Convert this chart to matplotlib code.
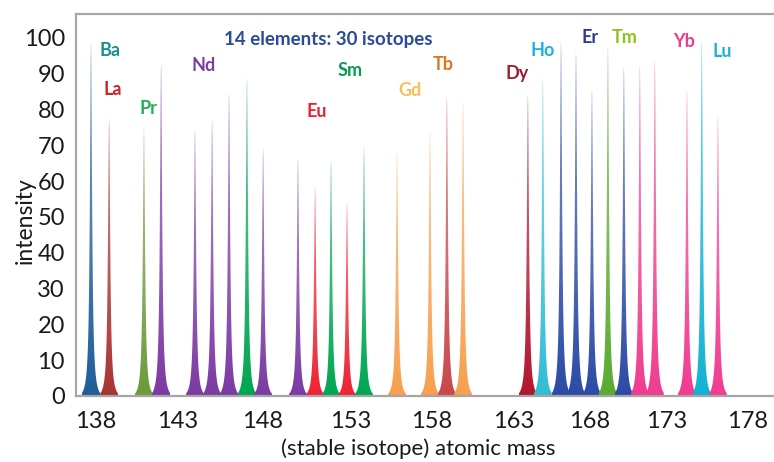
import numpy as np
import matplotlib
matplotlib.use('Agg')
import matplotlib.pyplot as plt
from matplotlib.colors import to_rgb

plt.rcParams['font.family'] = ['Lato', 'DejaVu Sans']

# isotope peaks, left to right (position on the drawn axis, intensity)
peak_elem = ['Ba', 'La', 'Pr', 'Nd', 'Nd', 'Nd', 'Nd', 'Sm', 'Nd', 'Nd',
             'Eu', 'Sm', 'Eu', 'Sm', 'Gd', 'Gd', 'Tb', 'Gd', 'Dy', 'Ho',
             'Er', 'Er', 'Er', 'Tm', 'Er', 'Yb', 'Yb', 'Yb', 'Lu', 'Yb']
peak_pos = [137.69, 138.80, 140.94, 141.99, 144.07, 145.12, 146.16, 147.26, 148.25, 150.39,
            151.44, 152.42, 153.40, 154.44, 156.47, 158.49, 159.53, 160.52, 164.50, 165.42,
            166.53, 167.45, 168.43, 169.41, 170.39, 171.37, 172.29, 174.26, 175.17, 176.16]
peak_height = [100, 78.5, 76, 94, 75.5, 78, 85.5, 90, 70, 67,
               59, 66.5, 54.5, 70.5, 69, 75, 85, 83, 85, 90,
               100, 97, 86.5, 99, 93, 93.5, 95, 86.5, 100.5, 79]

# element labels
elements = ['Ba', 'La', 'Pr', 'Nd', 'Eu', 'Sm', 'Gd', 'Tb', 'Dy', 'Ho', 'Er', 'Tm', 'Yb', 'Lu']
label_x = [138.83, 139.04, 141.19, 144.63, 151.56, 153.61, 157.26, 159.29, 163.83, 165.42, 168.34, 170.45, 174.1, 176.44]
label_y = [96.4, 85.6, 80.2, 92.3, 79.6, 90.8, 85.2, 92.5, 90.2, 96.4, 100.1, 100.1, 98.9, 96.1]
peak_colors = ['#1f5d98', '#a83232', '#6b9a3c', '#7b3aa3', '#ee2233', '#00a651', '#f7a04e',
               '#c9474a', '#b0152f', '#33bcd4', '#2c4aa6', '#5aaa30', '#f03c8f', '#12b2d2']
label_colors = ['#15908f', '#cc2228', '#1fae55', '#7b3fa0', '#e8202f', '#0a9a50', '#f7c05a',
                '#e0731e', '#a01a30', '#1eb0e0', '#2a3a90', '#8cc21e', '#f03c8f', '#1eb0d8']

tick_pos = [138, 143, 148.2, 153.6, 158.6, 163.6, 168.3, 173, 178]
tick_labels = ['138', '143', '148', '153', '158', '163', '168', '173', '178']

fig = plt.figure(figsize=(7.74, 4.62), dpi=100)
ax = fig.add_axes([76 / 774, 1 - 396 / 462, 1 - 76 / 774, (396 - 14) / 462])

pcol = dict(zip(elements, peak_colors))

# Draw peaks as sharp lorentzian spikes, fading toward the top
g = 0.08
for el, x0, h in zip(peak_elem, peak_pos, peak_height):
    xs = np.linspace(x0 - 0.55, x0 + 0.55, 400)
    ys = h / (1 + ((xs - x0) / g) ** 2)
    ys = np.clip(ys - h * 0.012, 0, None)
    poly = ax.fill_between(xs, 0, ys, color='none', lw=0)
    rgb = to_rgb(pcol[el])
    grad = np.zeros((100, 2, 4))
    grad[:, :, :3] = rgb
    grad[:, :, 3] = np.linspace(0.55, 1.0, 100)[:, None]
    im = ax.imshow(grad, extent=[x0 - 0.55, x0 + 0.55, 0, h], origin='upper',
                   aspect='auto', interpolation='bilinear', zorder=2)
    im.set_clip_path(poly.get_paths()[0], transform=ax.transData)

for el, x, y, c in zip(elements, label_x, label_y, label_colors):
    ax.text(x, y, el, color=c, fontsize=13, fontweight='bold', ha='center', va='center')

ax.text(152.26, 99.7, '14 elements: 30 isotopes', color='#2a4a9a', fontsize=13.5,
        fontweight='bold', ha='center', va='center')

ax.set_xlim(136.77, 179.6)
ax.set_ylim(0, 106.7)
ax.set_xticks(tick_pos)
ax.set_xticklabels(tick_labels)
ax.set_yticks(range(0, 101, 10))
ax.tick_params(length=0, labelsize=17, colors='#1a1a1a')
ax.tick_params(axis='x', pad=11)
ax.tick_params(axis='y', pad=8)

for s in ['left', 'bottom', 'top']:
    ax.spines[s].set_color('#a6a6a6')
    ax.spines[s].set_linewidth(1.6)
ax.spines['right'].set_visible(False)

ax.set_xlabel('(stable isotope) atomic mass', fontsize=16, color='#1a1a1a')
ax.xaxis.set_label_coords(0.49, -0.112)
ax.set_ylabel('intensity', fontsize=16.5, color='#1a1a1a')
ax.yaxis.set_label_coords(-0.057, 0.458)

fig.savefig('out.png', dpi=100)
